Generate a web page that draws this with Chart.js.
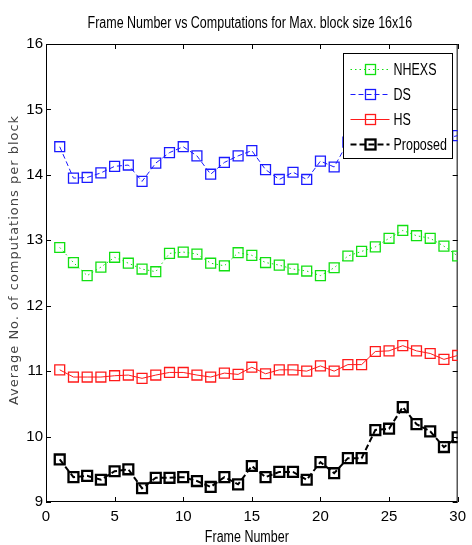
<!DOCTYPE html>
<html>
<head>
<meta charset="utf-8">
<script src="https://cdn.jsdelivr.net/npm/chart.js@4.4.1/dist/chart.umd.min.js"></script>
<style>
html,body{margin:0;padding:0;background:#fff;}
</style>
</head>
<body>
<canvas id="c" width="472" height="545"></canvas>
<script>
// values
const frames = [1,2,3,4,5,6,7,8,9,10,11,12,13,14,15,16,17,18,19,20,21,22,23,24,25,26,27,28,29,30];
const nhexs = [12.89,12.66,12.46,12.59,12.74,12.65,12.56,12.52,12.80,12.82,12.79,12.65,12.61,12.81,12.77,12.66,12.62,12.56,12.53,12.46,12.58,12.76,12.83,12.90,13.03,13.15,13.07,13.03,12.91,12.76];
const ds = [14.43,13.95,13.96,14.03,14.13,14.15,13.90,14.18,14.34,14.43,14.29,14.01,14.19,14.29,14.37,14.08,13.93,14.04,13.93,14.21,14.12,14.50,14.55,14.60,14.70,14.75,14.70,14.62,14.55,14.60];
const hs = [11.02,10.91,10.91,10.91,10.93,10.94,10.89,10.94,10.98,10.98,10.94,10.91,10.97,10.95,11.06,10.96,11.02,11.02,11.00,11.08,11.00,11.10,11.10,11.30,11.31,11.39,11.31,11.27,11.18,11.24];
const proposed = [9.65,9.38,9.40,9.34,9.47,9.50,9.21,9.37,9.37,9.38,9.32,9.23,9.38,9.27,9.55,9.38,9.46,9.46,9.34,9.61,9.44,9.67,9.67,10.10,10.12,10.45,10.19,10.08,9.84,9.99];
const seriesNames = ['NHEXS','DS','HS','Proposed'];
const titleText = 'Frame Number vs Computations for Max. block size 16x16';
const xTitle = 'Frame Number';
const yTitle = 'Average No. of computations per block';

const sans = "'Liberation Sans',Arial,sans-serif";

function pts(vals){
  return frames.map((f,i)=>({x:f, y:vals[i]}));
}

function mkSet(name, vals, color, dash, lw){
  return {
    label: name,
    data: pts(vals),
    borderColor: color,
    borderWidth: lw,
    borderDash: dash,
    pointStyle: 'rect',
    pointRadius: 7,
    pointBorderWidth: lw + 0.3,
    pointBorderColor: color,
    pointBackgroundColor: 'rgba(0,0,0,0)',
    fill: false,
    tension: 0
  };
}

// matlab style text is narrow, squeeze it a bit
function narrowText(ctx, txt, x, y, size, align){
  ctx.save();
  ctx.translate(x, y);
  ctx.scale(0.78, 1);
  ctx.font = size + 'px ' + sans;
  ctx.fillStyle = '#000';
  ctx.textAlign = align || 'center';
  ctx.textBaseline = 'middle';
  ctx.fillText(txt, 0, 0);
  ctx.restore();
}

// frame + inward ticks + titles
const boxTicks = {
  id: 'boxTicks',
  beforeDatasetsDraw(chart){
    const ctx = chart.ctx, a = chart.chartArea;
    const xs = chart.scales.x, ys = chart.scales.y;
    ctx.save();
    ctx.strokeStyle = '#000';
    ctx.lineWidth = 1;
    ctx.strokeRect(a.left + 0.5, a.top + 0.5, a.right - a.left - 1, a.bottom - a.top - 1);
    ctx.beginPath();
    xs.ticks.forEach(t=>{
      const p = Math.round(xs.getPixelForValue(t.value)) + 0.5;
      ctx.moveTo(p, a.bottom); ctx.lineTo(p, a.bottom - 5);
      ctx.moveTo(p, a.top); ctx.lineTo(p, a.top + 5);
    });
    ys.ticks.forEach(t=>{
      const p = Math.round(ys.getPixelForValue(t.value)) + 0.5;
      ctx.moveTo(a.left, p); ctx.lineTo(a.left + 5, p);
      ctx.moveTo(a.right, p); ctx.lineTo(a.right - 5, p);
    });
    ctx.stroke();
    ctx.restore();

    const cx = (a.left + a.right) / 2;
    narrowText(ctx, titleText, cx - 2, 24, 16);
    narrowText(ctx, xTitle, cx - 5, 538, 16);

    ctx.save();
    ctx.translate(15, (a.top + a.bottom) / 2 - 13);
    ctx.rotate(-Math.PI / 2);
    ctx.font = "13px 'DejaVu Sans',sans-serif";
    if ('letterSpacing' in ctx) ctx.letterSpacing = '1px';
    ctx.fillStyle = '#444';
    ctx.textAlign = 'center';
    ctx.textBaseline = 'middle';
    ctx.fillText(yTitle, 0, 0);
    ctx.restore();
  }
};

const boxLegend = {
  id: 'boxLegend',
  afterDraw(chart){
    const ctx = chart.ctx, a = chart.chartArea;
    const w = 109, h = 105;
    const x0 = Math.round(a.right - 6 - w) + 0.5, y0 = Math.round(a.top + 9) + 0.5;
    ctx.save();
    ctx.fillStyle = '#fff';
    ctx.fillRect(x0, y0, w, h);
    ctx.strokeStyle = '#000';
    ctx.lineWidth = 1;
    ctx.strokeRect(x0, y0, w, h);
    chart.data.datasets.forEach((d, i)=>{
      const y = y0 + 16 + i * 25;
      ctx.strokeStyle = d.borderColor;
      ctx.lineWidth = d.borderWidth;
      ctx.setLineDash(d.borderDash);
      ctx.beginPath();
      ctx.moveTo(x0 + 7, y); ctx.lineTo(x0 + 46, y);
      ctx.stroke();
      ctx.setLineDash([]);
      ctx.lineWidth = d.pointBorderWidth;
      ctx.strokeRect(x0 + 22, y - 5, 10, 10);
      narrowText(ctx, d.label, x0 + 50, y + 1, 16, 'left');
    });
    ctx.restore();
  }
};

new Chart(document.getElementById('c'), {
  type: 'line',
  data: {
    datasets: [
      mkSet(seriesNames[0], nhexs, '#11e011', [1.5, 3], 1),
      mkSet(seriesNames[1], ds, '#1a1aff', [5, 3], 1),
      mkSet(seriesNames[2], hs, '#ff1a1a', [], 1),
      mkSet(seriesNames[3], proposed, '#000000', [6, 3], 2)
    ]
  },
  options: {
    responsive: false,
    animation: false,
    layout: { padding: { left: 0, right: 5, top: 44, bottom: 0 } },
    plugins: {
      legend: { display: false },
      tooltip: { enabled: false },
      title: { display: false }
    },
    scales: {
      x: {
        type: 'linear', min: 0, max: 30,
        ticks: { stepSize: 5, color: '#000', padding: 6, font: { family: sans, size: 15 } },
        grid: { display: false, drawTicks: false },
        border: { display: false },
        afterFit(s){ s.height = 43; }
      },
      y: {
        min: 9, max: 16,
        ticks: { stepSize: 1, color: '#000', padding: 3, font: { family: sans, size: 15 } },
        grid: { display: false, drawTicks: false },
        border: { display: false },
        afterFit(s){ s.width = 46; }
      }
    }
  },
  plugins: [boxTicks, boxLegend]
});
</script>
</body>
</html>
